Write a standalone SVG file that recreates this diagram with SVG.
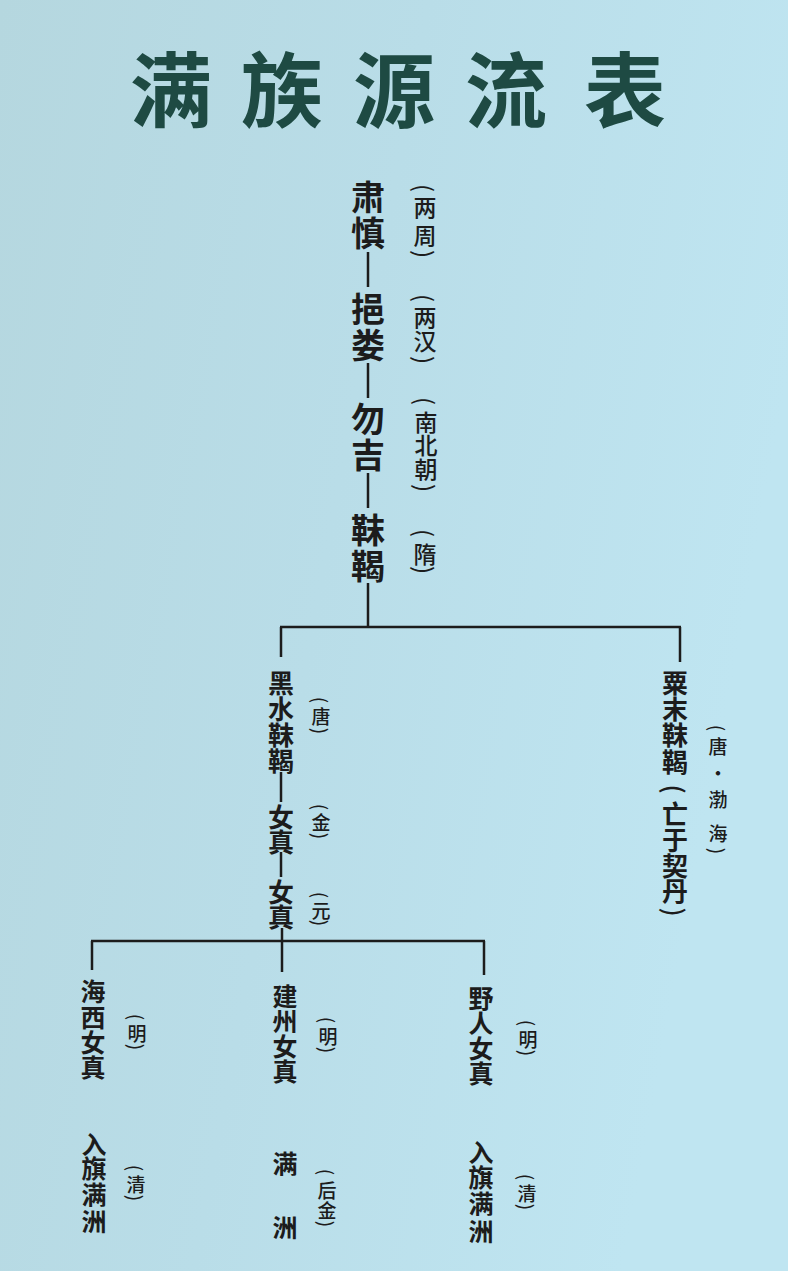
<svg xmlns="http://www.w3.org/2000/svg" width="788" height="1271" viewBox="0 0 788 1271">
<defs>
<linearGradient id="bg" x1="0" y1="0" x2="1" y2="0.3">
<stop offset="0" stop-color="#b5d7df"/>
<stop offset="0.5" stop-color="#b9dde8"/>
<stop offset="1" stop-color="#bfe5f1"/>
</linearGradient>
<style>
text{font-family:"Noto Sans CJK SC","Noto Sans CJK TC",sans-serif;text-anchor:middle;dominant-baseline:central;fill:#1c1c1c}
.title{font-size:82px;font-weight:700;fill:#1e4a43}
.m1{font-size:34px;font-weight:700}
.m2{font-size:26px;font-weight:700}
.m3{font-size:25px;font-weight:700}
.l1{font-size:23px;font-weight:500}
.l2{font-size:19px;font-weight:500}
.p1{font-size:24px;font-weight:400}
.p2{font-size:19px;font-weight:400}
.p3{font-size:26px;font-weight:500}
.conn line{stroke:#1c1c1c;stroke-width:2.5;fill:none}
</style>
</defs>
<rect width="788" height="1271" fill="url(#bg)"/>
<text id="title" class="title" x="171 282 394 506 625" y="85">满族源流表</text>

<g class="conn" id="connectors">
<line x1="368" y1="252" x2="368" y2="287"/>
<line x1="368" y1="363" x2="368" y2="398"/>
<line x1="368" y1="473" x2="368" y2="508"/>
<line x1="368" y1="583" x2="368" y2="627"/>
<line x1="280" y1="627" x2="681" y2="627"/>
<line x1="281" y1="627" x2="281" y2="657"/>
<line x1="680" y1="627" x2="680" y2="662"/>
<line x1="281" y1="772" x2="281" y2="802"/>
<line x1="281" y1="852" x2="281" y2="877"/>
<line x1="282" y1="928" x2="282" y2="972"/>
<line x1="91" y1="941" x2="485" y2="941"/>
<line x1="92" y1="941" x2="92" y2="970"/>
<line x1="484" y1="941" x2="484" y2="975"/>
</g>

<g id="sushen">
<text class="m1"><tspan x="368" y="195">肃</tspan><tspan x="368" y="231">慎</tspan></text>
<text class="p1" transform="translate(425,188) rotate(90)">(</text>
<text class="l1"><tspan x="425" y="206">两</tspan><tspan x="425" y="234">周</tspan></text>
<text class="p1" transform="translate(425,254) rotate(90)">)</text>
</g>
<g id="yilou">
<text class="m1"><tspan x="368" y="307">挹</tspan><tspan x="368" y="343">娄</tspan></text>
<text class="p1" transform="translate(425,298) rotate(90)">(</text>
<text class="l1"><tspan x="425" y="316">两</tspan><tspan x="425" y="340">汉</tspan></text>
<text class="p1" transform="translate(425,360) rotate(90)">)</text>
</g>
<g id="wuji">
<text class="m1"><tspan x="368" y="417">勿</tspan><tspan x="368" y="453">吉</tspan></text>
<text class="p1" transform="translate(426,401) rotate(90)">(</text>
<text class="l1"><tspan x="426" y="421">南</tspan><tspan x="426" y="444">北</tspan><tspan x="426" y="468">朝</tspan></text>
<text class="p1" transform="translate(426,488) rotate(90)">)</text>
</g>
<g id="mohe">
<text class="m1"><tspan x="368" y="528">靺</tspan><tspan x="368" y="564">鞨</tspan></text>
<text class="p1" transform="translate(425,533) rotate(90)">(</text>
<text class="l1" x="425" y="553">隋</text>
<text class="p1" transform="translate(425,570) rotate(90)">)</text>
</g>

<g id="heishui-mohe">
<text class="m2"><tspan x="281" y="681">黑</tspan><tspan x="281" y="707">水</tspan><tspan x="281" y="733">靺</tspan><tspan x="281" y="759">鞨</tspan></text>
<text class="p2" transform="translate(321,700) rotate(90)">(</text>
<text class="l2" x="321" y="715">唐</text>
<text class="p2" transform="translate(321,731) rotate(90)">)</text>
</g>
<g id="nuzhen-jin">
<text class="m2"><tspan x="281" y="815">女</tspan><tspan x="281" y="840">真</tspan></text>
<text class="p2" transform="translate(321,807) rotate(90)">(</text>
<text class="l2" x="321" y="821">金</text>
<text class="p2" transform="translate(321,836) rotate(90)">)</text>
</g>
<g id="nuzhen-yuan">
<text class="m2"><tspan x="281" y="890">女</tspan><tspan x="281" y="915">真</tspan></text>
<text class="p2" transform="translate(321,895) rotate(90)">(</text>
<text class="l2" x="321" y="909">元</text>
<text class="p2" transform="translate(321,923) rotate(90)">)</text>
</g>
<g id="sumo-mohe">
<text class="m2"><tspan x="675" y="681">粟</tspan><tspan x="675" y="707">末</tspan><tspan x="675" y="733">靺</tspan><tspan x="675" y="760">鞨</tspan></text>
<text class="p3" transform="translate(675,789) rotate(90)">(</text>
<text class="m2"><tspan x="675" y="812">亡</tspan><tspan x="675" y="838">于</tspan><tspan x="675" y="864">契</tspan><tspan x="675" y="889">丹</tspan></text>
<text class="p3" transform="translate(675,912) rotate(90)">)</text>
<text class="p2" transform="translate(718,728) rotate(90)">(</text>
<text class="l2"><tspan x="718" y="745">唐</tspan><tspan x="718" y="772">·</tspan><tspan x="718" y="798">渤</tspan><tspan x="718" y="832">海</tspan></text>
<text class="p2" transform="translate(718,851) rotate(90)">)</text>
</g>

<g id="haixi">
<text class="m3"><tspan x="93" y="990">海</tspan><tspan x="93" y="1016">西</tspan><tspan x="93" y="1041">女</tspan><tspan x="93" y="1066">真</tspan></text>
<text class="p2" transform="translate(137,1017) rotate(90)">(</text>
<text class="l2" x="137" y="1032">明</text>
<text class="p2" transform="translate(137,1047) rotate(90)">)</text>
</g>
<g id="jianzhou">
<text class="m3"><tspan x="285" y="995">建</tspan><tspan x="285" y="1020">州</tspan><tspan x="285" y="1045">女</tspan><tspan x="285" y="1070">真</tspan></text>
<text class="p2" transform="translate(328,1020) rotate(90)">(</text>
<text class="l2" x="328" y="1035">明</text>
<text class="p2" transform="translate(328,1050) rotate(90)">)</text>
</g>
<g id="yeren">
<text class="m3"><tspan x="481" y="997">野</tspan><tspan x="481" y="1022">人</tspan><tspan x="481" y="1047">女</tspan><tspan x="481" y="1072">真</tspan></text>
<text class="p2" transform="translate(528,1023) rotate(90)">(</text>
<text class="l2" x="528" y="1038">明</text>
<text class="p2" transform="translate(528,1053) rotate(90)">)</text>
</g>
<g id="haixi-qing">
<text class="m3"><tspan x="94" y="1143">入</tspan><tspan x="94" y="1167">旗</tspan><tspan x="94" y="1193">满</tspan><tspan x="94" y="1220">洲</tspan></text>
<text class="p2" transform="translate(136,1168) rotate(90)">(</text>
<text class="l2" x="136" y="1183">清</text>
<text class="p2" transform="translate(136,1198) rotate(90)">)</text>
</g>
<g id="jianzhou-houjin">
<text class="m3"><tspan x="285" y="1162">满</tspan><tspan x="285" y="1226">洲</tspan></text>
<text class="p2" transform="translate(327,1172) rotate(90)">(</text>
<text class="l2"><tspan x="327" y="1189">后</tspan><tspan x="327" y="1209">金</tspan></text>
<text class="p2" transform="translate(327,1224) rotate(90)">)</text>
</g>
<g id="yeren-qing">
<text class="m3"><tspan x="481" y="1151">入</tspan><tspan x="481" y="1176">旗</tspan><tspan x="481" y="1202">满</tspan><tspan x="481" y="1230">洲</tspan></text>
<text class="p2" transform="translate(527,1177) rotate(90)">(</text>
<text class="l2" x="527" y="1192">清</text>
<text class="p2" transform="translate(527,1207) rotate(90)">)</text>
</g>
</svg>
